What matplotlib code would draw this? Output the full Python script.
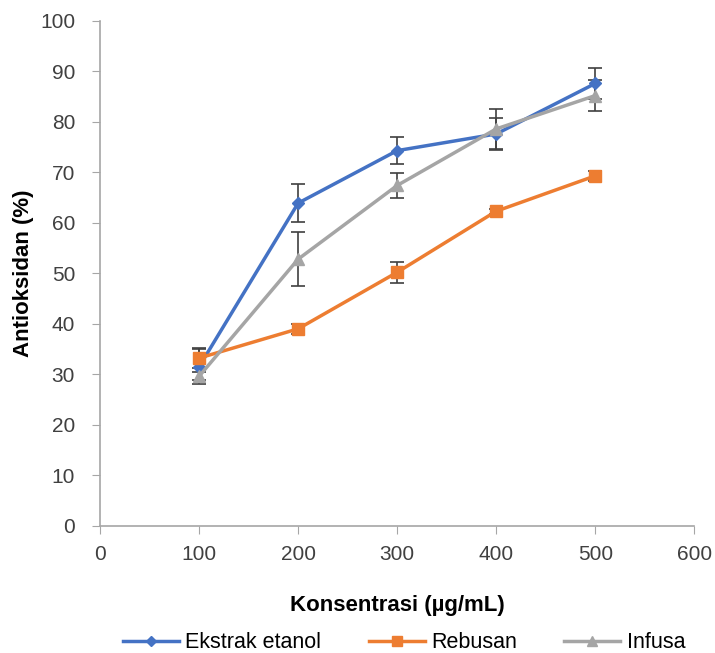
import matplotlib
matplotlib.use("Agg")
import matplotlib.pyplot as plt
from matplotlib.lines import Line2D

plt.rcParams['font.family'] = ['Liberation Sans', 'DejaVu Sans']

konsentrasi = [100, 200, 300, 400, 500]

ekstrak = [31.5, 63.9, 74.3, 77.6, 87.6]
ekstrak_err = [3.5, 3.8, 2.6, 3.2, 3.0]

rebusan = [33.2, 39.0, 50.2, 62.3, 69.3]
rebusan_err = [2.0, 1.0, 2.1, 0.5, 1.0]

infusa = [29.6, 52.8, 67.4, 78.6, 85.2]
infusa_err = [0.8, 5.3, 2.4, 4.0, 3.0]

fig = plt.figure(figsize=(7.15, 6.53), dpi=100)
ax = fig.add_axes([0.14, 0.195, 0.831, 0.773])

series = [
    (ekstrak, ekstrak_err, 'Ekstrak etanol', '#4472C4', 'D', 6),
    (rebusan, rebusan_err, 'Rebusan', '#ED7D31', 's', 8),
    (infusa, infusa_err, 'Infusa', '#A5A5A5', '^', 8),
]
handles = []
for vals, err, label, color, marker, ms in series:
    ax.errorbar(konsentrasi, vals, yerr=err, color=color, marker=marker,
                markersize=ms, linewidth=2.5, ecolor='#404040',
                elinewidth=1.2, capsize=5, capthick=1.2)
    handles.append(Line2D([], [], color=color, marker=marker,
                          markersize=ms - 1, linewidth=2.5, label=label))

ax.set_xlim(0, 600)
ax.set_ylim(0, 100)
ax.set_xticks(range(0, 601, 100))
ax.set_yticks(range(0, 101, 10))
ax.tick_params(labelsize=15, labelcolor='#404040', length=6,
               color='#a6a6a6', direction='out')
ax.tick_params(axis='y', pad=12)
ax.tick_params(axis='x', pad=8)
for side in ['top', 'right']:
    ax.spines[side].set_visible(False)
for side in ['left', 'bottom']:
    ax.spines[side].set_color('#a6a6a6')
    ax.spines[side].set_linewidth(1.2)

ax.set_xlabel('Konsentrasi (µg/mL)', fontsize=16, fontweight='bold',
              labelpad=22)
ax.set_ylabel('Antioksidan (%)', fontsize=16, fontweight='bold', labelpad=4)

fig.legend(handles=handles, loc='lower center', bbox_to_anchor=(0.565, -0.03),
           ncol=3, frameon=False, fontsize=15.5, handlelength=2.6,
           columnspacing=2.2, handletextpad=0.3)

fig.savefig('out.png', dpi=100)
